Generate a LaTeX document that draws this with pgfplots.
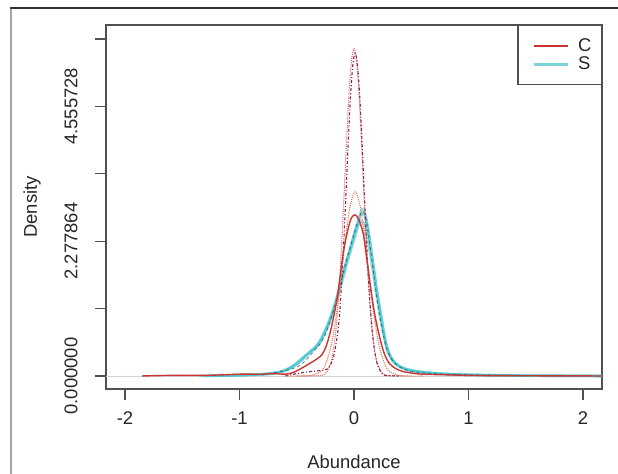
\documentclass[border=0pt]{standalone}
\usepackage{fontspec}
\setmainfont{Liberation Sans}
\usepackage{pgfplots}
\pgfplotsset{compat=1.18}

\definecolor{AxGray}{HTML}{505050}
\definecolor{TxtGray}{HTML}{262626}
\definecolor{CRed}{HTML}{CC3333}
\definecolor{CPink}{HTML}{E8707C}
\definecolor{CDark}{HTML}{8A2448}
\definecolor{COrange}{HTML}{E0805A}
\definecolor{SCyan}{HTML}{40C2CC}
\definecolor{SDark}{HTML}{2E4A4A}

\newcommand{\lblfont}{\fontsize{18.5}{21}\selectfont}

\begin{document}
\begin{tikzpicture}[x=1bp,y=1bp]
% page = 618 x 474, axis box lower-left corner at the origin
\useasboundingbox (-106,-85) rectangle (512,389);
\draw[line width=2bp, color=gray!70] (-95,-120) -- (-95,381);
\draw[line width=2bp, color=black!80] (-96,381) -- (540,381);
\begin{axis}[
  at={(0,0)}, anchor=south west,
  scale only axis, width=496bp, height=364bp,
  xmin=-2.166, xmax=2.166, ymin=-0.22, ymax=5.93,
  axis line style={AxGray, line width=1.3bp},
  xtick={-2,-1,0,1,2}, xticklabels={-2,-1,0,1,2},
  ytick={0,1.138932,2.277864,3.416796,4.555728,5.69466},
  yticklabels={0.000000,,2.277864,,4.555728,},
  xtick pos=bottom, ytick pos=left,
  tick align=outside, major tick length=11bp,
  tick style={AxGray, line width=1.3bp},
  tick label style={font=\lblfont, color=TxtGray},
  xticklabel style={yshift=-8bp},
  yticklabel style={xshift=-14bp, rotate=90, anchor=south},
  xlabel={Abundance}, ylabel={Density},
  label style={font=\lblfont, color=TxtGray},
  xlabel style={at={(axis description cs:0.5,-0.2)}, anchor=center},
  ylabel style={at={(axis description cs:-0.149,0.5)}, anchor=center},
  legend style={at={(1,1)}, anchor=north east, draw=AxGray, line width=1.2bp,
    font=\lblfont, text=TxtGray, row sep=0bp, inner xsep=8bp, inner ysep=11bp},
  legend cell align=left,
  legend image code/.code={\draw[#1] (0bp,0bp) -- (34bp,0bp); \path (-6bp,0bp) (41bp,0bp);},
]
% zero line
\addplot[gray!35, line width=0.8bp, forget plot] coordinates {(-2.166,0) (2.166,0)};

% S replicates (cyan)
\addplot[SCyan, opacity=0.55, line width=2.6bp, smooth, forget plot] coordinates {
(-1.35,0) (-1.1,0.01) (-0.9,0.02) (-0.8,0.025) (-0.7,0.04) (-0.62,0.08) (-0.55,0.15)
(-0.47,0.27) (-0.4,0.38) (-0.34,0.47) (-0.3,0.55) (-0.24,0.8) (-0.18,1.11) (-0.12,1.57)
(-0.08,1.85) (-0.035,2.13) (0.0,2.4) (0.05,2.69) (0.08,2.75) (0.11,2.6) (0.14,2.25)
(0.17,1.85) (0.2,1.43) (0.24,1.0) (0.26,0.75) (0.285,0.46) (0.32,0.3) (0.36,0.21)
(0.4,0.16) (0.47,0.1) (0.55,0.07) (0.65,0.05) (0.8,0.03) (1.0,0.02) (1.3,0.01)
(1.6,0.005) (2.166,0)};
\addplot[SCyan, opacity=0.55, line width=2.6bp, smooth, forget plot] coordinates {
(-1.3,0) (-1.0,0.015) (-0.8,0.03) (-0.7,0.05) (-0.6,0.1) (-0.5,0.2) (-0.42,0.33)
(-0.36,0.44) (-0.3,0.58) (-0.25,0.75) (-0.2,0.98) (-0.15,1.3) (-0.1,1.68) (-0.05,2.05)
(0.0,2.35) (0.04,2.62) (0.07,2.82) (0.1,2.72) (0.13,2.4) (0.16,1.98) (0.2,1.45)
(0.24,0.95) (0.28,0.55) (0.32,0.33) (0.37,0.2) (0.43,0.13) (0.5,0.09) (0.6,0.06)
(0.8,0.035) (1.0,0.02) (1.3,0.01) (1.7,0.004) (2.166,0)};
\addplot[SCyan, opacity=0.55, line width=2.6bp, smooth, forget plot] coordinates {
(-1.2,0) (-0.9,0.02) (-0.7,0.05) (-0.6,0.09) (-0.5,0.2) (-0.45,0.3) (-0.38,0.42)
(-0.32,0.52) (-0.27,0.7) (-0.22,0.92) (-0.16,1.25) (-0.1,1.62) (-0.05,1.98) (0.0,2.3)
(0.03,2.5) (0.06,2.62) (0.09,2.55) (0.12,2.3) (0.15,1.95) (0.19,1.45) (0.23,0.98)
(0.27,0.6) (0.31,0.36) (0.36,0.22) (0.42,0.14) (0.5,0.1) (0.6,0.07) (0.75,0.04)
(1.0,0.02) (1.4,0.008) (2.166,0)};
\addplot[SDark, opacity=0.7, line width=0.9bp, dashed, smooth, forget plot] coordinates {
(-0.8,0.02) (-0.5,0.15) (-0.35,0.42) (-0.25,0.7) (-0.15,1.3) (-0.08,1.85) (0.0,2.4)
(0.05,2.7) (0.08,2.78) (0.11,2.6) (0.15,2.05) (0.19,1.45) (0.23,0.95) (0.28,0.5)
(0.33,0.28) (0.4,0.15) (0.5,0.08) (0.7,0.04) (1.0,0.02) (1.5,0.005)};

% C replicates (red)
\addplot[CPink, line width=1.1bp, densely dotted, smooth, forget plot] coordinates {
(-0.5,0) (-0.35,0.005) (-0.28,0.012) (-0.24,0.06) (-0.2,0.24) (-0.18,0.44) (-0.16,0.75)
(-0.14,1.2) (-0.12,1.8) (-0.1,2.53) (-0.08,3.35) (-0.06,4.17) (-0.04,4.88) (-0.02,5.36)
(0,5.53) (0.02,5.36) (0.04,4.88) (0.06,4.17) (0.08,3.35) (0.1,2.53) (0.12,1.8)
(0.14,1.2) (0.16,0.75) (0.18,0.44) (0.2,0.24) (0.24,0.06) (0.28,0.012) (0.35,0.005)
(0.5,0)};
\addplot[CDark, line width=1.1bp, dash dot, smooth, forget plot] coordinates {
(-0.6,0) (-0.5,0.04) (-0.4,0.07) (-0.3,0.09) (-0.23,0.12) (-0.19,0.25) (-0.17,0.4)
(-0.15,0.63) (-0.13,0.95) (-0.11,1.51) (-0.09,2.24) (-0.07,3.09) (-0.05,3.96)
(-0.03,4.73) (-0.01,5.26) (0.01,5.45) (0.03,5.26) (0.05,4.73) (0.07,3.96) (0.09,3.09)
(0.11,2.24) (0.13,1.51) (0.15,0.95) (0.17,0.56) (0.19,0.31) (0.21,0.16) (0.25,0.03)
(0.3,0.005) (0.4,0)};
\addplot[COrange, line width=1.1bp, densely dotted, smooth, forget plot] coordinates {
(-0.6,0) (-0.39,0.004) (-0.29,0.075) (-0.24,0.24) (-0.19,0.6) (-0.14,1.23) (-0.09,2.06)
(-0.04,2.81) (0.01,3.11) (0.06,2.81) (0.11,2.06) (0.16,1.23) (0.21,0.6) (0.26,0.24)
(0.31,0.075) (0.41,0.004) (0.6,0)};
\addplot[CRed, line width=1.4bp, smooth, forget plot] coordinates {
(-1.85,0) (-1.6,0.01) (-1.3,0.01) (-1.0,0.03) (-0.9,0.03) (-0.8,0.03) (-0.7,0.04)
(-0.6,0.03) (-0.53,0.06) (-0.45,0.14) (-0.38,0.22) (-0.33,0.28) (-0.28,0.36)
(-0.24,0.52) (-0.2,0.8) (-0.15,1.28) (-0.12,1.7) (-0.09,2.13) (-0.05,2.5) (-0.02,2.68)
(0.01,2.72) (0.04,2.65) (0.08,2.41) (0.11,2.0) (0.14,1.57) (0.18,1.05) (0.23,0.61)
(0.27,0.35) (0.31,0.21) (0.36,0.13) (0.42,0.08) (0.5,0.05) (0.6,0.03) (0.8,0.02)
(1.0,0.01) (1.3,0.005) (2.166,0)};

\addlegendimage{draw=CRed, line width=1.8bp}
\addlegendentry{C}
\addlegendimage{draw=SCyan!70, line width=3.2bp}
\addlegendentry{S}
\end{axis}
\end{tikzpicture}
\end{document}
